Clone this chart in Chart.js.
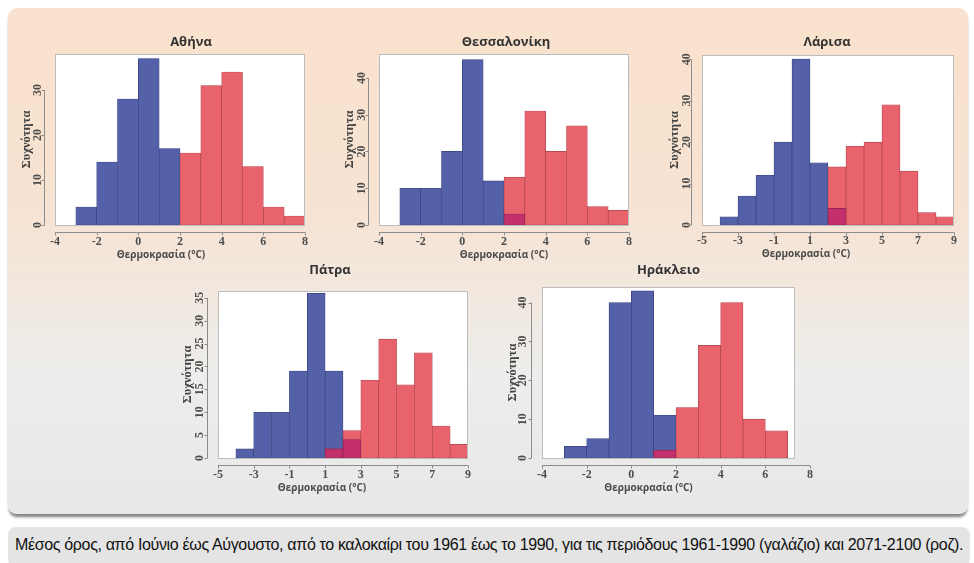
<!DOCTYPE html>
<html lang="el">
<head>
<meta charset="utf-8">
<title>Θερμοκρασία καλοκαιριού</title>
<script src="https://cdn.jsdelivr.net/npm/chart.js@4.4.1/dist/chart.umd.min.js"></script>
<style>
  html, body { margin: 0; padding: 0; background: #fff; }
  body { width: 974px; height: 563px; position: relative; overflow: hidden; }
  #panel {
    position: absolute; left: 8px; top: 8px; width: 960px; height: 506px;
    border-radius: 9px;
    background: linear-gradient(#f9e2cd 0%, #f7e3d3 40%, #ededeb 72%, #e8e8e8 100%);
    box-shadow: 0 4px 3px -1px rgba(0, 0, 0, 0.5);
  }
  #caption {
    position: absolute; left: 8px; top: 527px; width: 955px; height: 40px;
    padding-left: 7px; border-radius: 8px; background: #e4e4e4;
    font-family: "Liberation Sans", Arial, sans-serif;
    font-size: 16px; letter-spacing: -0.35px; line-height: 36px; color: #111; white-space: nowrap;
  }
  canvas { position: absolute; }
</style>
</head>
<body>
<div id="panel"></div>
<div id="caption">Μέσος όρος, από Ιούνιο έως Αύγουστο, από το καλοκαίρι του 1961 έως το 1990, για τις περιόδους 1961-1990 (γαλάζιο) και 2071-2100 (ροζ).</div>
<script>
// one-degree bins, left edge of each bin in °C
const athensBins = [-3, -2, -1, 0, 1, 2, 3, 4, 5, 6, 7];
const athensPast = [4, 14, 28, 37, 17, 0, 0, 0, 0, 0, 0];
const athensFuture = [0, 0, 0, 0, 0, 16, 31, 34, 13, 4, 2];
const athensXTicks = [-4, -2, 0, 2, 4, 6, 8];
const athensYTicks = [0, 10, 20, 30];

const thessBins = [-3, -2, -1, 0, 1, 2, 3, 4, 5, 6, 7];
const thessPast = [10, 10, 20, 45, 12, 3, 0, 0, 0, 0, 0];
const thessFuture = [0, 0, 0, 0, 0, 13, 31, 20, 27, 5, 4];
const thessXTicks = [-4, -2, 0, 2, 4, 6, 8];
const thessYTicks = [0, 10, 20, 30, 40];

const larisaBins = [-4, -3, -2, -1, 0, 1, 2, 3, 4, 5, 6, 7, 8];
const larisaPast = [2, 7, 12, 20, 40, 15, 4, 0, 0, 0, 0, 0, 0];
const larisaFuture = [0, 0, 0, 0, 0, 0, 14, 19, 20, 29, 13, 3, 2];
const larisaXTicks = [-5, -3, -1, 1, 3, 5, 7, 9];
const larisaYTicks = [0, 10, 20, 30, 40];

const patraBins = [-4, -3, -2, -1, 0, 1, 2, 3, 4, 5, 6, 7, 8];
const patraPast = [2, 10, 10, 19, 36, 19, 4, 0, 0, 0, 0, 0, 0];
const patraFuture = [0, 0, 0, 0, 0, 2, 6, 17, 26, 16, 23, 7, 3];
const patraXTicks = [-5, -3, -1, 1, 3, 5, 7, 9];
const patraYTicks = [0, 5, 10, 15, 20, 25, 30, 35];

const herakBins = [-3, -2, -1, 0, 1, 2, 3, 4, 5, 6];
const herakPast = [3, 5, 40, 43, 11, 0, 0, 0, 0, 0];
const herakFuture = [0, 0, 0, 0, 2, 13, 29, 40, 10, 7];
const herakXTicks = [-4, -2, 0, 2, 4, 6, 8];
const herakYTicks = [0, 10, 20, 30, 40];

const PAST = '#5461a8', PAST_EDGE = '#39427f';
const FUTURE = '#e8636b', FUTURE_EDGE = '#ad454e';
const BOTH = '#c3306b', BOTH_EDGE = '#8c2150';

const SANS = '"Open Sans", "Noto Sans", sans-serif';
const SERIF = '"Liberation Serif", "DejaVu Serif", serif';
const tickFont = {family: SERIF, size: 12, weight: 'bold'};
const yTitleFont = {family: SERIF, size: 12.5, weight: 'bold', lineHeight: '13px'};

function points(bins, counts) {
  return bins.map((b, i) => ({x: b + 0.5, y: counts[i]})).filter(p => p.y > 0);
}

// the part of a bin counted in both periods
function overlap(bins, a, b) {
  return bins.map((e, i) => ({x: e + 0.5, y: Math.min(a[i], b[i])})).filter(p => p.y > 0);
}

// white plot box, detached axis lines (minitab style), panel and x titles
const minitabAxes = {
  id: 'minitabAxes',
  frame(chart, o) {
    const a = chart.chartArea, x = chart.scales.x;
    const right = o.frameMax != null ? x.getPixelForValue(o.frameMax) : a.right;
    return {left: a.left, top: a.top, right, bottom: a.bottom};
  },
  beforeDatasetsDraw(chart, args, o) {
    const f = this.frame(chart, o), ctx = chart.ctx;
    ctx.save();
    ctx.fillStyle = '#ffffff';
    ctx.fillRect(f.left, f.top, f.right - f.left, f.bottom - f.top);
    ctx.restore();
  },
  afterDatasetsDraw(chart, args, o) {
    const f = this.frame(chart, o), ctx = chart.ctx;
    const x = chart.scales.x, y = chart.scales.y;
    ctx.save();
    ctx.strokeStyle = '#bcbcbc';
    ctx.lineWidth = 1;
    ctx.strokeRect(f.left + 0.5, f.top + 0.5, f.right - f.left - 1, f.bottom - f.top);

    ctx.strokeStyle = '#8c8c8c';
    ctx.beginPath();
    const ay = Math.round(f.bottom + 7) + 0.5;
    const xt = x.ticks.map(t => x.getPixelForValue(t.value));
    ctx.moveTo(xt[0], ay); ctx.lineTo(xt[xt.length - 1], ay);
    xt.forEach(px => { ctx.moveTo(Math.round(px) + 0.5, ay); ctx.lineTo(Math.round(px) + 0.5, ay + 3); });

    const ax = Math.round(f.left - 11) + 0.5;
    const yt = y.ticks.map(t => y.getPixelForValue(t.value));
    ctx.moveTo(ax, yt[0]); ctx.lineTo(ax, yt[yt.length - 1]);
    yt.forEach(py => { ctx.moveTo(ax, Math.round(py) + 0.5); ctx.lineTo(ax - 3, Math.round(py) + 0.5); });
    ctx.stroke();

    const cx = (f.left + f.right) / 2;
    ctx.textAlign = 'center';
    ctx.textBaseline = 'middle';
    ctx.fillStyle = '#4a4a4a';
    ctx.font = `bold 10px ${SANS}`;
    ctx.fillText(o.xTitle, cx + o.xTitleShift, f.bottom + o.xTitleGap);
    ctx.fillStyle = '#333';
    ctx.font = `bold 13px ${SANS}`;
    ctx.fillText(o.title, cx + o.titleShift, f.top - o.titleGap);
    ctx.restore();
  }
};

function histogram(g) {
  const left = g.l - 45;
  const top = g.titleY - 10;
  const right = g.r + 20;
  const height = g.b + 42 - top;
  const cv = document.createElement('canvas');
  cv.width = right - left;
  cv.height = height;
  cv.style.left = left + 'px';
  cv.style.top = top + 'px';
  document.body.appendChild(cv);

  return new Chart(cv, {
    type: 'bar',
    data: {
      datasets: [
        {label: '1961-1990', data: points(g.bins, g.past), backgroundColor: PAST, borderColor: PAST_EDGE, order: 3},
        {label: '2071-2100', data: points(g.bins, g.future), backgroundColor: FUTURE, borderColor: FUTURE_EDGE, order: 2},
        {label: '1961-1990 και 2071-2100', data: overlap(g.bins, g.past, g.future), backgroundColor: BOTH, borderColor: BOTH_EDGE, order: 1}
      ]
    },
    options: {
      responsive: false,
      animation: false,
      layout: {padding: {left: 0, top: g.t - top, bottom: 0, right: 20}},
      datasets: {
        bar: {grouped: false, barPercentage: 1, categoryPercentage: 1, borderWidth: 0.7, borderSkipped: false}
      },
      scales: {
        x: {
          type: 'linear',
          offset: false,
          min: g.xTicks[0],
          max: g.xTicks[g.xTicks.length - 1],
          afterBuildTicks: s => { s.ticks = g.xTicks.map(v => ({value: v})); },
          afterFit: s => { s.height = 42; },
          grid: {display: false, drawTicks: false, offset: false},
          border: {display: false},
          ticks: {autoSkip: false, maxRotation: 0, padding: g.xLabelY - g.b - 7, font: tickFont, color: '#4d4d4d'}
        },
        y: {
          min: 0,
          max: g.yMax,
          afterBuildTicks: s => { s.ticks = g.yTicks.map(v => ({value: v})); },
          afterFit: s => { s.width = 45; },
          grid: {display: false, drawTicks: false},
          border: {display: false},
          ticks: {minRotation: 90, maxRotation: 90, crossAlign: 'center', padding: g.l - g.yLabelX - 6, font: tickFont, color: '#4d4d4d'},
          title: {display: true, text: 'Συχνότητα', font: yTitleFont, color: '#444', padding: {top: g.yTitleX - left - 6.5, bottom: 0}}
        }
      },
      plugins: {
        legend: {display: false},
        tooltip: {enabled: false},
        minitabAxes: {
          frameMax: g.frameMax,
          title: g.name, titleShift: g.titleShift, titleGap: g.t - g.titleY,
          xTitle: 'Θερμοκρασία (°C)', xTitleShift: g.xTitleShift, xTitleGap: g.xTitleY - g.b
        }
      }
    },
    plugins: [minitabAxes]
  });
}

histogram({name: 'Αθήνα', bins: athensBins, past: athensPast, future: athensFuture, xTicks: athensXTicks, yTicks: athensYTicks, yMax: 38,
  l: 55, t: 54, r: 305, b: 225, titleY: 42, titleShift: 11, xLabelY: 242, xTitleY: 255, xTitleShift: -19, yLabelX: 38, yTitleX: 27});
histogram({name: 'Θεσσαλονίκη', bins: thessBins, past: thessPast, future: thessFuture, xTicks: thessXTicks, yTicks: thessYTicks, yMax: 46.5,
  l: 379, t: 54, r: 629, b: 225, titleY: 42, titleShift: 2, xLabelY: 242, xTitleY: 255, xTitleShift: 0, yLabelX: 362, yTitleX: 350});
histogram({name: 'Λάρισα', bins: larisaBins, past: larisaPast, future: larisaFuture, xTicks: larisaXTicks, yTicks: larisaYTicks, yMax: 41,
  l: 702, t: 55, r: 954, b: 225, titleY: 42, titleShift: -1, xLabelY: 241, xTitleY: 254, xTitleShift: -22, yLabelX: 687, yTitleX: 675});
histogram({name: 'Πάτρα', bins: patraBins, past: patraPast, future: patraFuture, xTicks: patraXTicks, yTicks: patraYTicks, yMax: 36.5,
  l: 218, t: 291, r: 468, b: 458, titleY: 270, titleShift: -13, xLabelY: 475, xTitleY: 488, xTitleShift: -21, yLabelX: 200, yTitleX: 188});
histogram({name: 'Ηράκλειο', bins: herakBins, past: herakPast, future: herakFuture, xTicks: herakXTicks, yTicks: herakYTicks, yMax: 44, frameMax: 7.33,
  l: 542, t: 287, r: 810, b: 458, titleY: 270, titleShift: 0, xLabelY: 475, xTitleY: 488, xTitleShift: -20, yLabelX: 523, yTitleX: 513});
</script>
</body>
</html>
